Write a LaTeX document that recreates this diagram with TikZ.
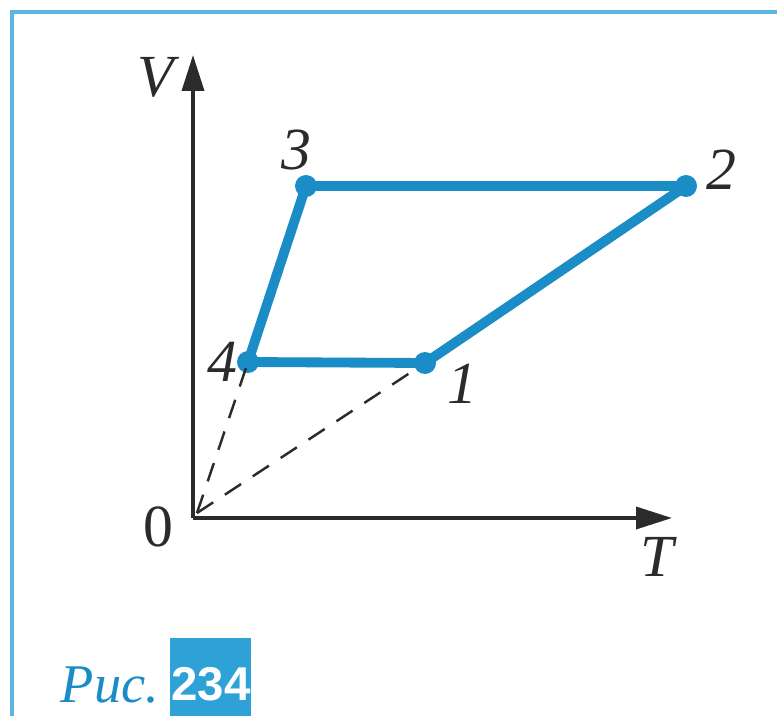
\documentclass[tikz,border=0pt]{standalone}
\usepackage{fontspec}
\setmainfont{Liberation Serif}
\newfontfamily\capfont{Liberation Sans}
\usepackage{tikz}
\usetikzlibrary{arrows.meta,positioning}
\definecolor{vtcycle}{HTML}{1A8CC6}
\definecolor{vtframe}{HTML}{5AB6DE}
\definecolor{vtbox}{HTML}{2EA2D6}
\definecolor{vtink}{HTML}{2B2B2B}
\tikzset{
  axis/.style={-{Triangle[length=0.72cm,width=0.44cm]},line width=2pt,draw=vtink},
  cyc/.style={line width=5.6pt,draw=vtcycle,line join=round},
  ray/.style={line width=1.4pt,dash pattern=on 11pt off 8pt,draw=vtink},
  vdot/.style={circle,fill=vtcycle,inner sep=0pt,minimum size=0.44cm},
  lab/.style={font=\fontsize{34}{38}\selectfont\itshape,text=vtink,inner sep=0pt},
}
\begin{document}
\begin{tikzpicture}[x=0.02cm,y=-0.02cm]
  \useasboundingbox (0,0) rectangle (777,716);

  % page frame
  \draw[vtframe,line width=2pt] (12,716) -- (12,12) -- (777,12);

  % ---------- axes ----------
  \coordinate (O) at (193,518);
  \coordinate (Vtip) at (193,55);
  \coordinate (Ttip) at (672,518);
  \coordinate (Oray) at (197,513);
  \draw[axis] (O) -- (Vtip);
  \draw[axis] (O) -- (Ttip);
  \node[lab] (labV) at (156,77) {V};
  \node[lab] (labT) at (657,557) {T};
  \node[lab,font=\fontsize{34}{38}\selectfont] (lab0) at (158,527) {0};

  % ---------- cycle ----------
  \node[vdot] (p1) at (425,363) {};
  \node[vdot] (p2) at (686,186) {};
  \node[vdot] (p3) at (306,186) {};
  \node[vdot] (p4) at (248,362) {};
  \draw[ray] (Oray) -- (p4.center);
  \draw[ray] (Oray) -- (p1.center);
  \draw[cyc] (p1.center) -- (p2.center) -- (p3.center) -- (p4.center) -- cycle;
  \node[lab] (l1) at (462,384) {1};
  \node[lab] (l2) at (721,170) {2};
  \node[lab] (l3) at (296,150) {3};
  \node[lab] (l4) at (222,362) {4};

  % ---------- caption ----------
  \node[font=\fontsize{31}{36}\selectfont\itshape,text=vtcycle,inner sep=0pt] (cap) at (110,685) {Рис.};
  \fill[vtbox] (170,638) rectangle (251,716);
  \node[font=\capfont\bfseries\fontsize{27}{32}\selectfont,text=white,inner sep=0pt] (num) at (211,684) {234};
\end{tikzpicture}
\end{document}
